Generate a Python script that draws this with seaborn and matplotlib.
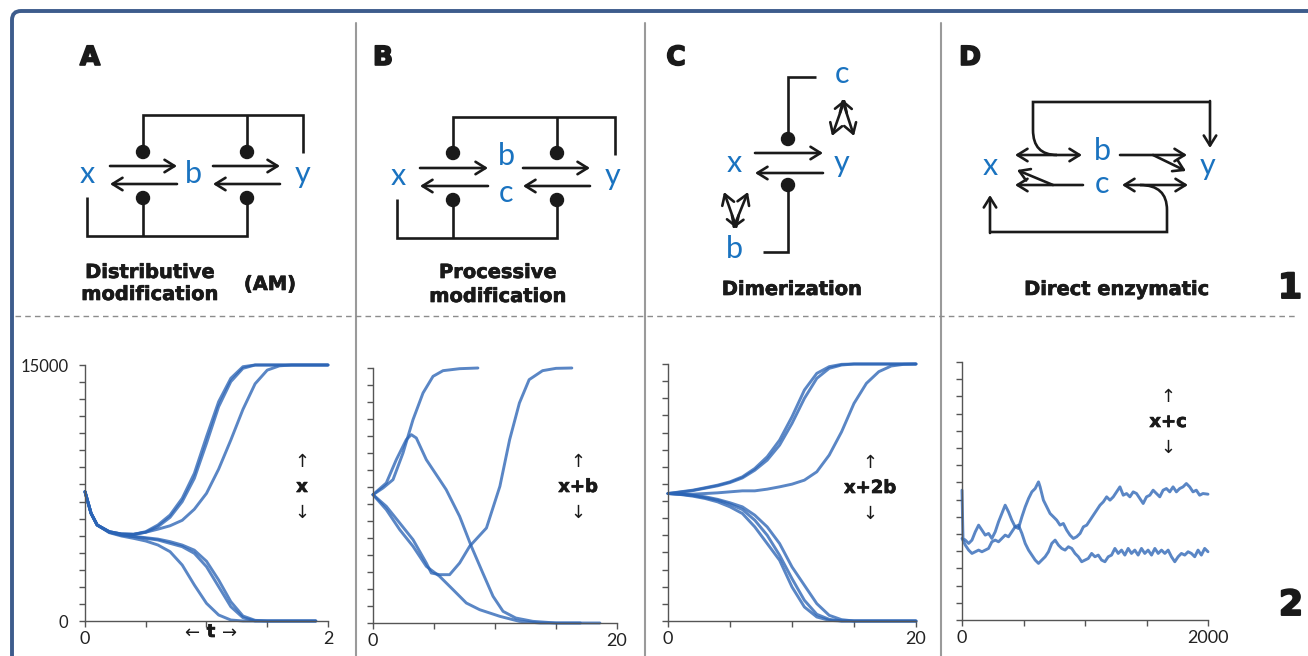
import numpy as np
import pandas as pd
import matplotlib
matplotlib.use("Agg")
import matplotlib.pyplot as plt
import matplotlib.patheffects as pe
import seaborn as sns
from matplotlib.patches import Circle, PathPatch
from matplotlib.path import Path

# ---------------- data ----------------
A_t = [0, 0.05, 0.1, 0.2, 0.3, 0.4, 0.5, 0.6, 0.7, 0.8, 0.9, 1.0, 1.1, 1.2, 1.3, 1.4, 1.5, 1.6, 1.7, 1.8, 1.9, 2.0]
A_up1 = [7578, 6308, 5625, 5234, 5097, 5078, 5234, 5625, 6210, 7187, 8652, 10800, 12851, 14218, 14901, 15000, 15000, 15000, 15000, 15000, 15000, 15000]
A_up2 = [7578, 6308, 5625, 5234, 5097, 5078, 5200, 5527, 6074, 6992, 8359, 10410, 12558, 14023, 14804, 15000, 15000, 15000, 15000, 15000, 15000, 15000]
A_up3 = [7578, 6308, 5625, 5234, 5097, 5078, 5200, 5380, 5580, 5900, 6550, 7480, 8900, 10600, 12400, 13900, 14700, 14950, 15000, 15000, 15000, 15000]
A_lo1 = [7578, 6308, 5625, 5176, 4980, 4843, 4687, 4453, 4062, 3281, 2109, 1035, 352, 59, 0, 0, 0, 0, 0, 0, 0, np.nan]
A_lo2 = [7578, 6308, 5625, 5200, 5030, 4941, 4843, 4746, 4550, 4355, 3964, 3183, 2012, 840, 195, 0, 0, 0, 0, 0, 0, np.nan]
A_lo3 = [7578, 6308, 5625, 5210, 5050, 4960, 4880, 4800, 4650, 4450, 4150, 3500, 2402, 1133, 293, 39, 0, 0, 0, 0, 0, np.nan]

B1_t = [0, 0.82, 1.64, 2.46, 3.28, 4.1, 4.92, 5.74, 7.1, 8.6]
B1_y = [7549, 7941, 8431, 10000, 11961, 13530, 14510, 14843, 14960, 15000]
B2_t = [0, 1.09, 1.91, 2.73, 3.14, 3.55, 4.37, 5.46, 6.0, 7.1, 8.06, 9.0, 9.84, 10.66, 11.7, 13.1, 15.0, 18.6]
B2_y = [7549, 8236, 9608, 10785, 11079, 10883, 9608, 8431, 7843, 6275, 4510, 2941, 1569, 686, 294, 98, 0, 0]
B3_t = [0, 1.09, 2.19, 3.28, 4.37, 4.78, 5.46, 6.28, 7.1, 7.92, 9.3, 10.4, 11.2, 12.0, 12.8, 13.9, 15.0, 16.3]
B3_y = [7549, 6863, 5882, 4902, 3529, 2941, 2843, 2843, 3529, 4510, 5590, 8040, 10785, 12940, 14315, 14843, 14980, 15000]
B4_t = [0, 1.09, 2.19, 3.28, 4.37, 5.46, 6.56, 7.65, 8.74, 10.4, 12.0, 13.7, 17.0]
B4_y = [7549, 6667, 5490, 4510, 3333, 2745, 1961, 1176, 784, 392, 98, 0, 0]

C_t = list(range(0, 21))
C_up1 = [7441, 7540, 7636, 7780, 7928, 8123, 8415, 8902, 9584, 10558, 11922, 13480, 14454, 14844, 14980, 15000, 15000, 15000, 15000, 15000, 15000]
C_up2 = [7441, 7520, 7610, 7750, 7890, 8080, 8350, 8800, 9389, 10266, 11532, 12993, 14162, 14746, 14941, 15000, 15000, 15000, 15000, 15000, 15000]
C_up3 = [7441, 7420, 7402, 7441, 7480, 7539, 7597, 7597, 7695, 7831, 7987, 8221, 8708, 9682, 11045, 12701, 13870, 14552, 14883, 14980, 15000]
C_lo1 = [7441, 7383, 7286, 7149, 6954, 6662, 6273, 5493, 4519, 3545, 1987, 818, 234, 39, 0, 0, 0, 0, 0, 0, 0]
C_lo2 = [7441, 7400, 7324, 7200, 7052, 6818, 6506, 5883, 5006, 3838, 2474, 1208, 390, 97, 0, 0, 0, 0, 0, 0, 0]
C_lo3 = [7441, 7410, 7340, 7250, 7100, 6900, 6662, 6175, 5493, 4519, 3156, 2084, 1013, 331, 78, 0, 0, 0, 0, 0, 0]

D1_t = [0, 8, 27, 54, 81, 108, 135, 162, 189, 216, 243, 270, 297, 324, 351, 378, 405, 432, 459, 487,
        514, 541, 568, 595, 622, 635, 662, 689, 716, 743, 770, 797, 824, 851, 878, 905, 932, 960, 987,
        1014, 1041, 1068, 1095, 1122, 1149, 1176, 1203, 1230, 1257, 1284, 1311, 1338, 1365, 1392, 1419,
        1446, 1473, 1500, 1527, 1554, 1581, 1608, 1635, 1662, 1689, 1716, 1743, 1770, 1797, 1824, 1851,
        1878, 1905, 1932, 1959, 2000]
D1_y = [7548, 4741, 4645, 4451, 4645, 5128, 5515, 5225, 4935, 5032, 4741, 5128, 5709, 6192, 6676, 6289,
        5805, 5418, 5322, 6000, 6579, 7063, 7450, 7643, 8030, 7740, 6966, 6579, 6192, 6000, 5805, 5515,
        5612, 5225, 4935, 4741, 4838, 5032, 5418, 5515, 5805, 6096, 6386, 6676, 6870, 7160, 6966, 7160,
        7450, 7740, 7256, 7353, 7160, 7450, 7353, 7063, 6773, 7160, 7256, 7547, 7353, 7160, 7547, 7643,
        7450, 7740, 7450, 7643, 7740, 7935, 7740, 7450, 7547, 7256, 7353, 7314]
D2_t = [0, 27, 54, 81, 108, 135, 162, 189, 216, 243, 270, 297, 324, 351, 378, 405, 432, 459, 487, 514,
        541, 568, 595, 622, 649, 676, 703, 730, 757, 784, 811, 838, 865, 892, 919, 946, 973, 1000, 1027,
        1054, 1081, 1108, 1135, 1162, 1189, 1216, 1243, 1270, 1297, 1324, 1351, 1378, 1405, 1432, 1459,
        1486, 1513, 1541, 1568, 1595, 1622, 1649, 1676, 1703, 1730, 1757, 1784, 1811, 1838, 1865, 1892,
        1919, 1946, 1973, 2000]
D2_y = [4741, 4354, 4064, 3870, 3967, 4064, 3967, 4064, 4161, 4548, 4645, 4548, 4741, 4935, 4838, 5128,
        5418, 5515, 5032, 4451, 4064, 3774, 3484, 3290, 3484, 3677, 3967, 4451, 4645, 4354, 4161, 4064,
        4258, 4161, 3870, 3677, 3387, 3484, 3580, 3870, 3677, 3774, 3484, 3387, 3677, 3774, 4161, 3870,
        4064, 3774, 4161, 3870, 4064, 3774, 4161, 3870, 4064, 3774, 4161, 3870, 4064, 3870, 4064, 3677,
        3387, 3677, 3870, 3774, 3967, 3870, 3677, 4064, 3774, 4161, 3967]

A_xticklabels = ["0", "", "", "", "2"]
B_xticklabels = ["0", "", "", "", "20"]
C_xticklabels = ["0", "", "", "", "20"]
D_xticklabels = ["0", "", "", "", "2000"]
Y_MAX = 15000

# ---------------- style ----------------
sns.set_theme(style="white")
plt.rcParams["font.family"] = ["DejaVu Sans"]

W, H = 1308, 656
fig = plt.figure(figsize=(W / 100, H / 100), dpi=100)
fig.patch.set_facecolor("white")

ov = fig.add_axes([0, 0, 1, 1])
ov.set_xlim(0, W)
ov.set_ylim(H, 0)
ov.axis("off")

LINE_C = "#2b64b5"
BLUE = "#1a73c0"
SP_FONT = "Lato"


def longdf(runs):
    rows = []
    for k, (t, y) in enumerate(runs):
        for a, b in zip(t, y):
            rows.append((k, a, b))
    return pd.DataFrame(rows, columns=["run", "t", "y"])


def panel(rect, runs, xmax, xlabels, show_y=False):
    ax = fig.add_axes(rect)
    ax.patch.set_alpha(0)
    df = longdf(runs)
    sns.lineplot(data=df, x="t", y="y", units="run", estimator=None, sort=False,
                 color=LINE_C, alpha=0.78, lw=2.1, ax=ax, legend=False)
    for ln in ax.lines:
        ln.set_clip_on(False)
    ax.set_xlim(0, xmax)
    ax.set_ylim(0, Y_MAX)
    ax.set_xlabel("")
    ax.set_ylabel("")
    for s in ["top", "right"]:
        ax.spines[s].set_visible(False)
    for s in ["left", "bottom"]:
        ax.spines[s].set_color("#555555")
        ax.spines[s].set_linewidth(1.0)
    ax.set_xticks(np.linspace(0, xmax, 5))
    ax.set_xticklabels(xlabels, fontsize=13, family=SP_FONT, color="#222222")
    ax.set_yticks(np.arange(0, Y_MAX + 1, 1000))
    if show_y:
        ylabs = [""] * 16
        ylabs[0] = "0"
        ylabs[-1] = "15000"
        ax.set_yticklabels(ylabs, fontsize=12, family=SP_FONT, color="#222222")
    else:
        ax.set_yticklabels([])
    ax.tick_params(axis="both", direction="out", length=4, width=1, color="#555555",
                   left=True, bottom=True, pad=3)
    ax.tick_params(axis="y", pad=8)
    return ax


panel([85 / W, (H - 621) / H, 243 / W, 256 / H],
      [(A_t, A_up1), (A_t, A_up2), (A_t, A_up3), (A_t, A_lo1), (A_t, A_lo2), (A_t, A_lo3)],
      2, A_xticklabels, show_y=True)
panel([373 / W, (H - 623) / H, 244 / W, 255 / H],
      [(B1_t, B1_y), (B2_t, B2_y), (B3_t, B3_y), (B4_t, B4_y)], 20, B_xticklabels)
panel([668 / W, (H - 621) / H, 248 / W, 257 / H],
      [(C_t, C_up1), (C_t, C_up2), (C_t, C_up3), (C_t, C_lo1), (C_t, C_lo2), (C_t, C_lo3)],
      20, C_xticklabels)
panel([962 / W, (H - 620) / H, 246 / W, 258 / H],
      [(D1_t, D1_y), (D2_t, D2_y)], 2000, D_xticklabels)

# ---------------- frame & separators ----------------
frame = Path([(12, 700), (12, 20), (12, 11), (21, 11), (1320, 11)],
             [Path.MOVETO, Path.LINETO, Path.CURVE3, Path.CURVE3, Path.LINETO])
ov.add_patch(PathPatch(frame, fc="none", ec="#3d5c8c", lw=2.8))
for xs in [356, 645, 941]:
    ov.plot([xs, xs], [23, 660], color="#9a9a9a", lw=1.5)
ov.plot([15, 1295], [316, 316], color="#8c8c8c", lw=1.0, dashes=(4, 3))


def line(xs, ys):
    ov.plot(xs, ys, color="k", lw=1.9, solid_capstyle="butt", solid_joinstyle="miter")


def arrow(x0, y0, x1, y1, style="->"):
    ov.annotate("", xy=(x1, y1), xytext=(x0, y0),
                arrowprops=dict(arrowstyle=style + ",head_length=0.45,head_width=0.28",
                                color="k", lw=1.9, shrinkA=0, shrinkB=0, mutation_scale=16))


def dot(x, y):
    ov.add_patch(Circle((x, y), 6.5, color="k"))


def sp(x, y, s):
    ov.text(x, y, s, color=BLUE, fontsize=22, family=SP_FONT, ha="center", va="baseline")


def heavy(stroke):
    return [pe.withStroke(linewidth=stroke, foreground="k")]


def bold(x, y, s, size=14, stroke=0.5):
    ov.text(x, y, s, fontsize=size, fontweight="bold", ha="center", va="baseline",
            color="k", path_effects=heavy(stroke))


# panel letters
for x, s in [(90, "A"), (383, "B"), (676, "C"), (970, "D")]:
    bold(x, 65, s, size=19, stroke=1.2)

# ---- A diagram
sp(87, 183, "x"); sp(193, 183, "b"); sp(303, 183, "y")
arrow(110, 166, 177, 166); arrow(177, 184, 110, 184)
arrow(213, 166, 280, 166); arrow(280, 184, 213, 184)
for p in [(143, 152), (247, 152), (143, 198), (247, 198)]:
    dot(*p)
line([143, 143, 303, 303], [152, 115, 115, 153]); line([247, 247], [115, 152])
line([87, 87, 247, 247], [197, 236, 236, 198]); line([143, 143], [198, 236])
bold(150, 278, "Distributive"); bold(150, 300, "modification"); bold(270, 290, "(AM)")

# ---- B diagram
sp(398, 185, "x"); sp(506, 165, "b"); sp(506, 202, "c"); sp(613, 185, "y")
arrow(420, 168, 488, 168); arrow(488, 186, 420, 186)
arrow(523, 168, 590, 168); arrow(590, 186, 523, 186)
for p in [(453, 153), (557, 153), (453, 200), (557, 200)]:
    dot(*p)
line([453, 453, 615, 615], [153, 117, 117, 155]); line([557, 557], [117, 153])
line([397, 397, 557, 557], [199, 238, 238, 200]); line([453, 453], [200, 238])
bold(498, 278, "Processive"); bold(498, 302, "modification")

# ---- C diagram
sp(734, 172, "x"); sp(842, 172, "y"); sp(842, 83, "c"); sp(734, 258, "b")
arrow(755, 153, 823, 153); arrow(823, 173, 755, 173)
dot(788, 139); dot(788, 185)
line([788, 788, 816], [139, 77, 77]); line([788, 788, 763], [185, 252, 252])
arrow(845, 99, 832, 136, "<->"); arrow(842, 99, 854, 136, "<->")
arrow(724, 192, 737, 229, "<->"); arrow(748, 192, 733, 229, "<->")
bold(792, 295, "Dimerization")

# ---- D diagram
sp(990, 175, "x"); sp(1102, 160, "b"); sp(1102, 193, "c"); sp(1208, 175, "y")
arrow(1015, 155, 1082, 155, "<->")
arrow(1120, 155, 1187, 155); arrow(1153, 155, 1186, 171)
arrow(1083, 185, 1015, 185); arrow(1053, 185, 1017, 170)
arrow(1122, 185, 1188, 185, "<->")
top = Path([(1057, 155), (1033, 155), (1033, 130), (1033, 102), (1210, 102)],
           [Path.MOVETO, Path.CURVE3, Path.CURVE3, Path.LINETO, Path.LINETO])
ov.add_patch(PathPatch(top, fc="none", ec="k", lw=1.9))
arrow(1210, 101, 1210, 148)
bot = Path([(1140, 185), (1167, 185), (1167, 210), (1167, 232), (990, 232)],
           [Path.MOVETO, Path.CURVE3, Path.CURVE3, Path.LINETO, Path.LINETO])
ov.add_patch(PathPatch(bot, fc="none", ec="k", lw=1.9))
arrow(990, 233, 990, 195)
bold(1117, 295, "Direct enzymatic")

# row numbers
bold(1290, 298, "1", size=25, stroke=1.4)
bold(1291, 615, "2", size=25, stroke=1.4)


# ---------------- plot annotations ----------------
def updown(x, yc, label):
    ov.text(x, yc - 25, "\u2191", fontsize=13, ha="center", va="center", color="k")
    ov.text(x, yc, label, fontsize=13, fontweight="bold", ha="center", va="center",
            color="k", path_effects=heavy(0.5))
    ov.text(x, yc + 26, "\u2193", fontsize=13, ha="center", va="center", color="k")


updown(302, 487, "x")
updown(578, 487, "x+b")
updown(870, 488, "x+2b")
updown(1168, 422, "x+c")

ov.text(192, 633, "\u2190", fontsize=13, ha="center", va="center", color="k")
ov.text(211, 632, "t", fontsize=13, fontweight="bold", ha="center", va="center", color="k",
        path_effects=heavy(0.5))
ov.text(230, 633, "\u2192", fontsize=13, ha="center", va="center", color="k")

fig.savefig("out.png", dpi=100, facecolor="white")
